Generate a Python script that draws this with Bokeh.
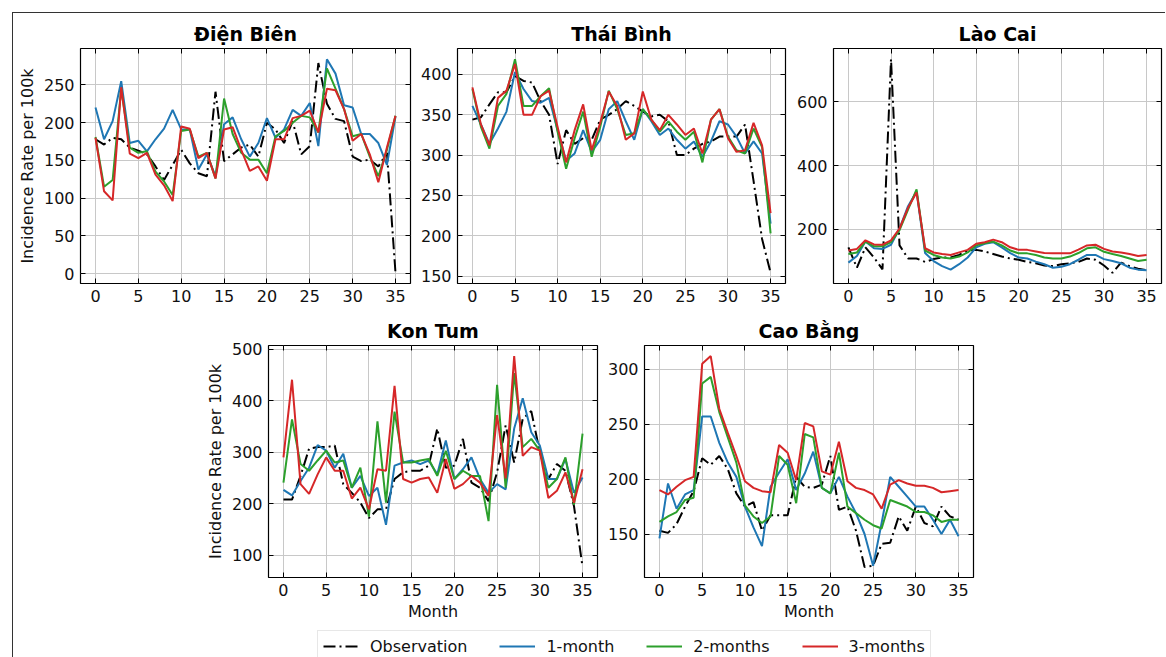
from bokeh.plotting import figure
from bokeh.models import (Range1d, FixedTicker, LinearAxis, Legend, LegendItem, Spacer)
from bokeh.layouts import row, column
from bokeh.embed import file_html
from bokeh.resources import INLINE

months = list(range(36))
x_ticks = [0, 5, 10, 15, 20, 25, 30, 35]

# ---- Điện Biên ----
dien_bien_obs = [178,171,180,178,167,163,158,142,124,144,164,146,133,129,241,149,158,167,171,155,200,191,173,202,158,169,279,225,205,202,155,149,151,142,160,1]
dien_bien_1m = [220,178,202,255,173,176,162,178,192,217,191,191,138,158,129,198,207,178,155,173,206,180,191,217,209,226,169,284,265,223,220,185,185,173,144,208]
dien_bien_2m = [181,115,124,245,167,160,162,135,122,104,189,191,155,160,126,232,185,160,151,151,133,182,189,200,209,207,187,272,245,218,182,185,155,129,164,209]
dien_bien_3m = [180,109,97,247,159,153,160,131,117,96,195,192,153,160,126,191,194,164,136,142,123,178,178,206,209,216,187,245,243,218,176,185,158,121,167,209]

# ---- Thái Bình ----
thai_binh_obs = [344,347,363,378,378,398,392,390,367,350,289,331,314,321,319,344,350,357,367,361,354,348,350,342,300,300,308,314,317,323,323,323,338,268,196,154]
thai_binh_1m = [361,338,314,333,354,403,382,367,365,371,331,293,302,331,304,319,357,367,342,319,357,342,325,333,319,308,317,298,317,342,338,323,302,317,302,215]
thai_binh_2m = [382,335,308,361,376,419,361,361,373,383,329,283,321,354,298,335,380,357,325,327,357,344,329,342,329,319,329,291,344,357,323,306,302,333,310,203]
thai_binh_3m = [384,338,312,371,380,413,350,350,373,380,335,291,331,363,306,340,379,361,319,327,379,344,331,350,338,325,333,302,344,357,321,304,306,340,312,228]

# ---- Lào Cai ----
lao_cai_obs = [144,80,144,112,75,734,150,109,109,98,107,112,112,120,134,136,131,123,115,109,105,98,94,87,85,91,94,98,109,105,87,64,96,85,77,72]
lao_cai_1m = [96,117,162,141,139,152,203,273,319,126,101,85,74,91,112,144,155,160,144,126,112,109,99,91,80,83,91,105,120,120,107,101,94,80,74,72]
lao_cai_2m = [123,128,162,147,147,160,198,262,326,134,120,112,109,115,128,150,157,162,150,134,125,125,120,112,109,109,115,126,141,144,130,123,117,109,101,105]
lao_cai_3m = [134,139,166,153,152,166,203,268,316,141,128,123,120,128,136,155,160,168,160,144,136,136,131,126,125,125,125,137,150,152,139,131,128,123,117,120]

# ---- Kon Tum ----
kon_tum_obs = [208,208,254,307,310,310,313,238,221,202,172,189,189,248,261,264,264,274,346,270,274,326,241,231,205,261,352,280,365,380,300,248,277,264,195,77]
kon_tum_1m = [227,216,244,270,314,303,270,297,231,254,215,231,159,274,280,284,277,284,257,323,248,267,290,248,221,238,228,346,405,339,313,248,248,287,221,251]
kon_tum_2m = [241,364,277,264,284,303,280,284,231,270,175,360,202,379,280,280,284,287,254,303,248,264,254,254,166,431,231,454,310,326,303,231,248,290,198,336]
kon_tum_3m = [290,441,238,219,257,290,264,264,210,231,189,267,264,429,248,241,248,251,221,287,229,238,254,241,215,372,249,487,293,310,303,211,225,261,202,267]

# ---- Cao Bằng ----
cao_bang_obs = [153,151,159,175,189,219,213,221,209,187,175,179,153,167,167,167,202,193,192,195,221,172,175,153,120,121,141,142,166,153,175,160,157,175,166,163]
cao_bang_1m = [146,196,173,186,190,257,257,233,215,202,175,156,139,193,206,218,190,205,225,192,187,202,184,169,150,121,160,202,193,184,175,175,163,150,163,148]
cao_bang_2m = [161,166,170,181,183,287,293,261,238,215,176,166,160,166,221,213,178,241,238,192,187,224,175,169,163,158,155,181,178,175,170,170,167,161,163,163]
cao_bang_3m = [190,186,193,199,202,305,312,264,242,221,198,192,189,188,231,224,199,251,248,207,204,234,198,192,190,186,173,195,199,196,194,194,192,188,189,190]

series_labels = ["Observation", "1-month", "2-months", "3-months"]
series_colors = ["black", "#1f77b4", "#2ca02c", "#d62728"]
obs_dash = "12 4 2 4"

FONT = "DejaVu Sans"
GRID = "#c8c8c8"
TXT = "16px"


def tick_only_axis(ticks):
    return LinearAxis(ticker=FixedTicker(ticks=ticks), major_tick_in=5, major_tick_out=0,
                      major_label_text_font_size="1px", major_label_text_color=None,
                      major_label_text_alpha=0, major_label_standoff=0,
                      minor_tick_line_color=None, axis_line_color=None,
                      major_tick_line_color="black")


def make_panel(title, data, yrange, yticks, ylabel=None, xlabel=None,
               fw=329, fh=235, mbl=42, mbr=5, mbt=35, mbb=28, tstand=6):
    p = figure(frame_width=fw, frame_height=fh,
               x_range=Range1d(-1.75, 36.75), y_range=Range1d(*yrange),
               output_backend="svg", toolbar_location=None,
               min_border_left=mbl, min_border_right=mbr,
               min_border_top=mbt, min_border_bottom=mbb,
               background_fill_color="white", border_fill_color="white")
    p.title.text = title
    p.title.text_font = FONT
    p.title.text_font_size = "19px"
    p.title.text_font_style = "bold"
    p.title.text_color = "black"
    p.title.align = "center"
    p.title.standoff = tstand
    p.outline_line_color = "black"
    p.outline_line_width = 1.2

    for ax in (p.xaxis[0], p.yaxis[0]):
        ax.major_tick_in = 5
        ax.major_tick_out = 0
        ax.minor_tick_line_color = None
        ax.major_label_text_font = FONT
        ax.major_label_text_font_size = TXT
        ax.major_label_text_color = "#111111"
        ax.major_label_standoff = 6
        ax.axis_line_color = None
        ax.major_tick_line_color = "black"
        ax.axis_label_text_font = FONT
        ax.axis_label_text_font_size = TXT
        ax.axis_label_text_font_style = "normal"
        ax.axis_label_text_color = "#111111"
    p.xaxis[0].ticker = FixedTicker(ticks=x_ticks)
    p.yaxis[0].ticker = FixedTicker(ticks=yticks)
    if ylabel:
        p.yaxis[0].axis_label = ylabel
        p.yaxis[0].axis_label_standoff = 4
    if xlabel:
        p.xaxis[0].axis_label = xlabel
        p.xaxis[0].axis_label_standoff = 3

    p.add_layout(tick_only_axis(x_ticks), "above")
    p.add_layout(tick_only_axis(yticks), "right")

    p.xgrid.ticker = FixedTicker(ticks=x_ticks)
    p.ygrid.ticker = FixedTicker(ticks=yticks)
    p.xgrid.grid_line_color = GRID
    p.ygrid.grid_line_color = GRID
    p.xgrid.grid_line_width = 1
    p.ygrid.grid_line_width = 1

    for vals, col, lab in zip(data, series_colors, series_labels):
        if lab == "Observation":
            p.line(months, vals, line_color=col, line_width=2, line_dash=obs_dash)
        else:
            p.line(months, vals, line_color=col, line_width=2)
    return p


p1 = make_panel("Điện Biên", [dien_bien_obs, dien_bien_1m, dien_bien_2m, dien_bien_3m],
                (-13.2, 298.3), [0, 50, 100, 150, 200, 250],
                ylabel="Incidence Rate per 100k", fw=330, mbl=67, tstand=7)
p2 = make_panel("Thái Bình", [thai_binh_obs, thai_binh_1m, thai_binh_2m, thai_binh_3m],
                (140.75, 432.25), [150, 200, 250, 300, 350, 400], fw=328, mbl=42, tstand=7)
p3 = make_panel("Lào Cai", [lao_cai_obs, lao_cai_1m, lao_cai_2m, lao_cai_3m],
                (30.5, 767.5), [200, 400, 600], fw=328, mbl=43, mbr=4, tstand=7)
p4 = make_panel("Kon Tum", [kon_tum_obs, kon_tum_1m, kon_tum_2m, kon_tum_3m],
                (56.5, 507.5), [100, 200, 300, 400, 500],
                ylabel="Incidence Rate per 100k", xlabel="Month",
                fw=329, fh=232, mbl=67, mbt=34, mbb=48, tstand=8)
p5 = make_panel("Cao Bằng", [cao_bang_obs, cao_bang_1m, cao_bang_2m, cao_bang_3m],
                (110.4, 321.6), [150, 200, 250, 300], xlabel="Month",
                fw=329, fh=232, mbl=42, mbt=34, mbb=48, tstand=8)

# legend strip: the legend's renderers draw the Kon Tum series outside the visible range
pl = figure(width=650, height=32, x_range=Range1d(-200, -199), y_range=Range1d(-200, -199),
            output_backend="svg", toolbar_location=None, min_border=0)
pl.axis.visible = False
pl.grid.visible = False
pl.outline_line_color = None
rends = []
for vals, col, lab in zip([kon_tum_obs, kon_tum_1m, kon_tum_2m, kon_tum_3m], series_colors, series_labels):
    if lab == "Observation":
        r = pl.line(months, vals, line_color=col, line_width=2, line_dash=obs_dash)
    else:
        r = pl.line(months, vals, line_color=col, line_width=2)
    rends.append(r)
legend = Legend(items=[LegendItem(label=l, renderers=[r]) for l, r in zip(series_labels, rends)],
                orientation="horizontal", location="top_left", margin=5, padding=5,
                spacing=32, label_standoff=11, glyph_width=36, glyph_height=20,
                label_height=20, label_text_font=FONT, label_text_font_size=TXT,
                label_text_color="#111111",
                border_line_color="#d0d0d0", border_line_width=1,
                background_fill_color="white", background_fill_alpha=1)
pl.add_layout(legend, "center")

layout = column(
    row(p1, p2, p3),
    row(Spacer(width=188, height=10), p4, p5),
    row(Spacer(width=299, height=10), pl),
    margin=(12, 0, 0, 12),
    styles={"border-top": "1px solid #333", "border-left": "1px solid #333"},
)

html = file_html(layout, INLINE, title="chart")
html = html.replace("<head>", "<head><style>html,body{margin:0;overflow:hidden;background:white}</style>", 1)
open("out.html", "w").write(html)
